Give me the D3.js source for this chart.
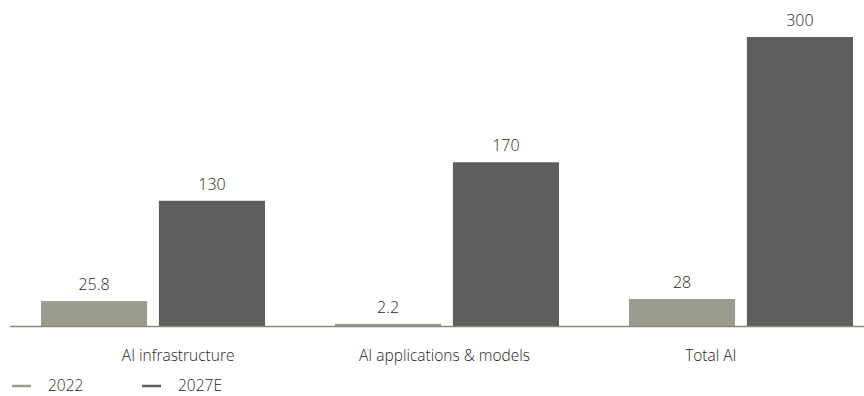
<!DOCTYPE html>
<style type="text/css">
body { margin: 0; background: #fff; }
text { font-family: "Open Sans", "Noto Sans", sans-serif; fill: #262626; font-weight: 300; }
</style>
<svg width="864" height="396"></svg>
<script src="https://d3js.org/d3.v7.min.js"></script>
<script>

var categories = ["AI infrastructure", "AI applications & models", "Total AI"];
var series = ["2022", "2027E"];
var values2022 = [25.8, 2.2, 28];
var values2027E = [130, 170, 300];
var valueLabels2022 = ["25.8", "2.2", "28"];
var valueLabels2027E = ["130", "170", "300"];

var colors = ["#9a9a8f", "#5d5f5d"];

var svg = d3.select("svg"),
		width = +svg.attr("width"),
		height = +svg.attr("height");

var baseY = 326;

var y = d3.scaleLinear()
		.domain([0, 300])
		.range([baseY, 37]);

var x0 = d3.scaleBand()
		.domain(categories)
		.range([41, 853])
		.paddingInner(0.238)
		.paddingOuter(0);

var x1 = d3.scaleBand()
		.domain(series)
		.range([0, x0.bandwidth()])
		.paddingInner(0.1);

// category labels sit on their own, evenly spaced positions
var xLabel = d3.scaleBand()
		.domain(categories)
		.range([45, 844]);

var rows = categories.map(function(c, i) {
	return {
		category: c,
		bars: [
			{ key: series[0], value: values2022[i], label: valueLabels2022[i] },
			{ key: series[1], value: values2027E[i], label: valueLabels2027E[i] }
		]
	};
});

var group = svg.append("g")
	.selectAll("g")
	.data(rows)
	.enter().append("g")
		.attr("transform", function(d) { return "translate(" + x0(d.category) + ",0)"; });

group.selectAll("rect")
	.data(function(d) { return d.bars; })
	.enter().append("rect")
		.attr("x", function(d) { return x1(d.key); })
		.attr("y", function(d) { return y(d.value); })
		.attr("width", x1.bandwidth())
		.attr("height", function(d) { return baseY - y(d.value); })
		.attr("fill", function(d, i) { return colors[i]; });

group.selectAll("text")
	.data(function(d) { return d.bars; })
	.enter().append("text")
		.attr("x", function(d) { return x1(d.key) + x1.bandwidth() / 2; })
		.attr("y", function(d) { return y(d.value) - 11; })
		.attr("text-anchor", "middle")
		.attr("font-size", 16)
		.text(function(d) { return d.label; });

// baseline
svg.append("line")
		.attr("x1", 10)
		.attr("x2", width)
		.attr("y1", baseY + 0.5)
		.attr("y2", baseY + 0.5)
		.attr("stroke", "#8a8874")
		.attr("stroke-width", 1.5);

svg.append("g")
	.selectAll("text")
	.data(categories)
	.enter().append("text")
		.attr("x", function(d) { return xLabel(d) + xLabel.bandwidth() / 2; })
		.attr("y", 361)
		.attr("text-anchor", "middle")
		.attr("font-size", 15.5)
		.text(function(d) { return d; });

// legend
var legend = svg.append("g")
	.selectAll("g")
	.data(series)
	.enter().append("g")
		.attr("transform", function(d, i) { return "translate(" + (12 + i * 130) + ",386)"; });

legend.append("line")
		.attr("x1", 0)
		.attr("x2", 19)
		.attr("stroke", function(d, i) { return colors[i]; })
		.attr("stroke-width", 2.5);

legend.append("text")
		.attr("x", 36)
		.attr("dy", "0.35em")
		.attr("font-size", 15.5)
		.text(function(d) { return d; });

</script>
